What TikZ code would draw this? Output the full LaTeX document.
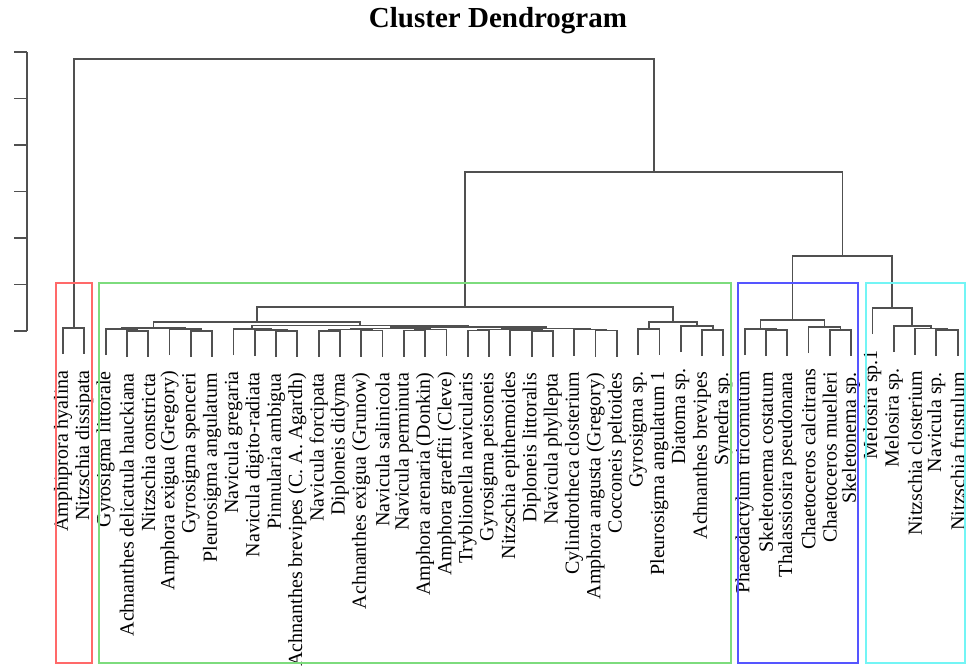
\documentclass[tikz,border=0pt]{standalone}
\usepackage{fontspec}
\setmainfont{Liberation Serif}
\usetikzlibrary{calc}
\definecolor{dgray}{RGB}{80,80,80}
\definecolor{bxred}{RGB}{255,105,105}
\definecolor{bxgreen}{RGB}{125,220,125}
\definecolor{bxblue}{RGB}{85,85,255}
\definecolor{bxcyan}{RGB}{115,245,245}
\newcommand{\leaf}[4]{%
  \coordinate (#1) at ({63+21.3*#2},#3);
  \node[lab] (#1t) at ({63+21.3*#2},{#3+16}) {#4};}
\newcommand{\dmerge}[4]{%
  \path let \p1=($(#2)!0.5!(#3)$) in (\x1,-#4pt) coordinate (#1);
  \draw[dend] (#2) |- (#1) -| (#3);}
\begin{document}
\begin{tikzpicture}[x=1pt,y=-1pt,
  dend/.style={draw=dgray, line width=1.8pt},
  lab/.style={rotate=90, anchor=east, inner sep=0pt, font=\fontsize{20}{21}\selectfont},
  bx/.style={line width=1.4pt}]
\useasboundingbox (0,0) rectangle (966,665);
\node[font=\bfseries\fontsize{29}{30}\selectfont] (title) at (498,21) {Cluster Dendrogram};
% axis
\draw[dend] (27,52) -- (27,331);
\foreach \yy in {52,98.5,145,191.5,238,284.5,331} \draw[dend] (14,\yy) -- (27,\yy);
% leaves
\leaf{L0}{0}{354}{Amphiprora hyalina}
\leaf{L1}{1}{354}{Nitzschia dissipata}
\leaf{L2}{2}{355}{Gyrosigma littorale}
\leaf{L3}{3}{357}{Achnanthes delicatula hauckiana}
\leaf{L4}{4}{357}{Nitzschia constricta}
\leaf{L5}{5}{355}{Amphora exigua (Gregory)}
\leaf{L6}{6}{357}{Gyrosigma spenceri}
\leaf{L7}{7}{357}{Pleurosigma angulatum}
\leaf{L8}{8}{355}{Navicula gregaria}
\leaf{L9}{9}{356}{Navicula digito-radiata}
\leaf{L10}{10}{357}{Pinnularia ambigua}
\leaf{L11}{11}{357}{Achnanthes brevipes (C. A. Agardh)}
\leaf{L12}{12}{357}{Navicula forcipata}
\leaf{L13}{13}{357}{Diploneis didyma}
\leaf{L14}{14}{356.5}{Achnanthes exigua (Grunow)}
\leaf{L15}{15}{356.5}{Navicula salinicola}
\leaf{L16}{16}{356.5}{Navicula perminuta}
\leaf{L17}{17}{356.5}{Amphora arenaria (Donkin)}
\leaf{L18}{18}{355.5}{Amphora graeffii (Cleve)}
\leaf{L19}{19}{356.5}{Tryblionella navicularis}
\leaf{L20}{20}{356.5}{Gyrosigma peisoneis}
\leaf{L21}{21}{356}{Nitzschia epithemoides}
\leaf{L22}{22}{357}{Diploneis littoralis}
\leaf{L23}{23}{357}{Navicula phyllepta}
\leaf{L24}{24}{355.5}{Cylindrotheca closterium}
\leaf{L25}{25}{356.5}{Amphora angusta (Gregory)}
\leaf{L26}{26}{356.5}{Cocconeis peltoides}
\leaf{L27}{27}{355}{Gyrosigma sp.}
\leaf{L28}{28}{355}{Pleurosigma angulatum 1}
\leaf{L29}{29}{352}{Diatoma sp.}
\leaf{L30}{30}{356}{Achnanthes brevipes}
\leaf{L31}{31}{356}{Synedra sp.}
\leaf{L32}{32}{355}{Phaeodactylum tricornutum}
\leaf{L33}{33}{356}{Skeletonema costatum}
\leaf{L34}{34}{356}{Thalassiosira pseudonana}
\leaf{L35}{35}{353}{Chaetoceros calcitrans}
\leaf{L36}{36}{356}{Chaetoceros muelleri}
\leaf{L37}{37}{356}{Skeletonema sp.}
\leaf{L38}{38}{334}{Melosira sp.1}
\leaf{L39}{39}{352}{Melosira sp.}
\leaf{L40}{40}{354.5}{Nitzschia closterium}
\leaf{L41}{41}{356}{Navicula sp.}
\leaf{L42}{42}{356}{Nitzschia frustulum}
% red
\dmerge{red}{L0}{L1}{328}
% green, left part
\dmerge{a1}{L3}{L4}{331}
\dmerge{a2}{L2}{a1}{329}
\dmerge{a3}{L6}{L7}{331}
\dmerge{a4}{L5}{a3}{329}
\dmerge{gla}{a2}{a4}{328}
\dmerge{b1}{L10}{L11}{331}
\dmerge{b2}{L9}{b1}{330}
\dmerge{bl}{L8}{b2}{329}
\dmerge{c1}{L12}{L13}{331}
\dmerge{c2}{L14}{L15}{330.5}
\dmerge{c3}{c1}{c2}{329.5}
\dmerge{c4}{L16}{L17}{330.5}
\dmerge{c5}{c4}{L18}{329.5}
\dmerge{ra}{c3}{c5}{328.5}
\dmerge{d1}{L19}{L20}{330.5}
\dmerge{d0}{L22}{L23}{331}
\dmerge{d2}{L21}{d0}{330}
\dmerge{d3}{d1}{d2}{329.5}
\dmerge{d4}{L25}{L26}{330.5}
\dmerge{d5}{L24}{d4}{329.5}
\dmerge{rb}{d3}{d5}{328.5}
\dmerge{rr}{ra}{rb}{327}
\dmerge{glb}{bl}{rr}{325.5}
\dmerge{gl}{gla}{glb}{322}
% green, right part
\dmerge{gr1}{L27}{L28}{329}
\dmerge{gr3}{L30}{L31}{330}
\dmerge{gr2}{L29}{gr3}{326}
\dmerge{gr}{gr1}{gr2}{322}
\dmerge{gtop}{gl}{gr}{307}
% blue
\dmerge{e1}{L33}{L34}{330}
\dmerge{e2}{L32}{e1}{329}
\dmerge{e3}{L36}{L37}{330}
\dmerge{e4}{L35}{e3}{327}
\dmerge{blue}{e2}{e4}{320}
% cyan
\dmerge{f1}{L41}{L42}{330}
\dmerge{f2}{L40}{f1}{328.5}
\dmerge{f3}{L39}{f2}{326}
\dmerge{cyan}{L38}{f3}{308}
\dmerge{bc}{blue}{cyan}{256}
\dmerge{rest}{gtop}{bc}{172}
\dmerge{root}{red}{rest}{59}
% cluster boxes
\draw[bx, bxred] (56,283) rectangle (92,663);
\draw[bx, bxgreen] (99,283) rectangle (731,663);
\draw[bx, bxblue] (738,283) rectangle (858,663);
\draw[bx, bxcyan] (866,283) rectangle (965,663);
\end{tikzpicture}
\end{document}
